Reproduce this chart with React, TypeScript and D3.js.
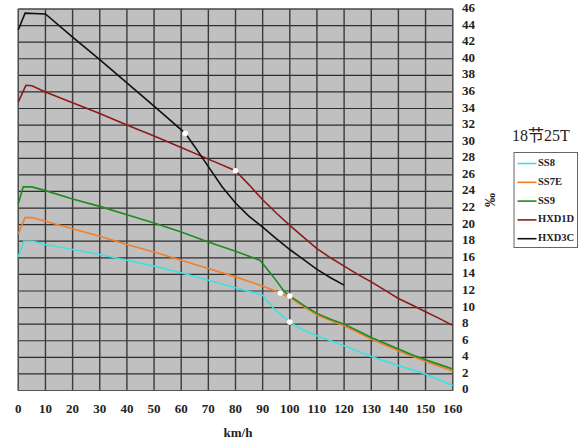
import * as d3 from "d3";

// speed (km/h) / gradient (‰) pairs
const seriesNames = ["SS8", "SS7E", "SS9", "HXD1D", "HXD3C"];
const seriesColors = ["#3fe0e0", "#f07f2c", "#1f8a1f", "#8e1a1a", "#111111"];

const ss8 = [
  [0, 16.1], [2, 18.0], [5.5, 18.0], [10, 17.6], [20, 17.0], [30, 16.4], [40, 15.7],
  [50, 15.0], [60, 14.2], [70, 13.3], [80, 12.4], [90, 11.5], [94, 9.9], [100, 8.25],
  [105, 7.3], [110, 6.6], [120, 5.4], [130, 4.1], [140, 3.0], [150, 2.0], [160, 0.6],
];
const ss7e = [
  [0, 18.9], [2.5, 20.85], [5, 20.85], [10, 20.4], [20, 19.5], [30, 18.6], [40, 17.6],
  [50, 16.7], [60, 15.7], [70, 14.7], [80, 13.7], [90, 12.6], [96.5, 11.75], [100, 11.2],
  [110, 9.1], [120, 7.8], [130, 6.2], [140, 4.8], [150, 3.5], [160, 2.35],
];
const ss9 = [
  [0, 22.5], [1.8, 24.55], [5, 24.55], [10, 24.1], [20, 23.1], [30, 22.2], [40, 21.2],
  [50, 20.2], [60, 19.1], [70, 17.9], [80, 16.8], [89, 15.7], [94, 13.7], [98, 11.9],
  [100, 11.4], [105, 10.3], [110, 9.3], [115, 8.6], [120, 8.0], [125, 7.2], [130, 6.4],
  [135, 5.7], [140, 5.0], [145, 4.3], [150, 3.7], [155, 3.15], [160, 2.6],
];
const hxd1d = [
  [0, 34.8], [2.8, 36.8], [5, 36.75], [10, 36.0], [20, 34.7], [30, 33.4], [40, 32.0],
  [50, 30.7], [60, 29.3], [70, 27.9], [80, 26.5], [85, 24.8], [90, 23.0], [95, 21.4],
  [100, 19.9], [105, 18.5], [110, 17.1], [115, 16.0], [120, 15.0], [125, 14.0], [130, 13.1],
  [135, 12.1], [140, 11.1], [145, 10.3], [150, 9.5], [155, 8.7], [160, 7.85],
];
const hxd3c = [
  [0, 43.5], [2.5, 45.5], [10, 45.4], [20, 42.6], [30, 39.9], [40, 37.1], [50, 34.3],
  [61.5, 31.0], [65, 29.4], [70, 27.0], [75, 24.6], [80, 22.6], [85, 21.0], [90, 19.7],
  [95, 18.3], [100, 17.0], [105, 15.8], [110, 14.6], [115, 13.6], [120, 12.7],
];
const seriesData = [ss8, ss7e, ss9, hxd1d, hxd3c];

// white markers where the curves change character
const markers = [[61.5, 31.0], [80, 26.5], [96.5, 11.75], [100, 11.4], [100, 8.25]];

const xTicks = d3.range(0, 161, 10);
const yTicks = d3.range(0, 47, 2);
const legendTitle = ["18", "节", "25T"];

const font = "'Liberation Serif', 'DejaVu Serif', serif";

export default function App() {
  const width = 580;
  const height = 443;
  const x = d3.scaleLinear().domain([0, 160]).range([18.3, 452.7]);
  const y = d3.scaleLinear().domain([0, 46]).range([390.5, 9]);

  const line = d3.line<number[]>()
    .x(d => x(d[0]))
    .y(d => y(d[1]));

  return (
    <svg
      width={width}
      height={height}
      style={{ position: "absolute", left: 0, top: 0, background: "#fff" }}
      fontFamily={font}
    >
      <rect x={x(0)} y={y(46)} width={x(160) - x(0)} height={y(0) - y(46)} fill="#c0c0c0" />
      {yTicks.map(t => (
        <line key={"h" + t} x1={x(0)} x2={x(160)} y1={y(t)} y2={y(t)} stroke="#2e2e2e" strokeWidth={1.2} />
      ))}
      {xTicks.map(t => (
        <line key={"v" + t} x1={x(t)} x2={x(t)} y1={y(0)} y2={y(46)} stroke="#3a3a3a" strokeWidth={1.4} />
      ))}
      <rect x={x(0)} y={y(46)} width={x(160) - x(0)} height={y(0) - y(46)} fill="none" stroke="#555" strokeWidth={1} />

      {seriesData.map((s, i) => (
        <path key={seriesNames[i]} d={line(s) ?? ""} fill="none" stroke={seriesColors[i]} strokeWidth={1.6} />
      ))}
      {markers.map((m, i) => (
        <circle key={"m" + i} cx={x(m[0])} cy={y(m[1])} r={2.8} fill="#fff" />
      ))}

      {xTicks.map(t => (
        <text key={"xt" + t} x={x(t)} y={410} textAnchor="middle" dominantBaseline="middle"
          fontSize={13} fontWeight="bold" fill="#222">{t}</text>
      ))}
      {yTicks.map(t => (
        <text key={"yt" + t} x={462} y={y(t)} textAnchor="start" dominantBaseline="middle"
          fontSize={13} fontWeight="bold" fill="#222">{t}</text>
      ))}
      <text x={238} y={434} textAnchor="middle" dominantBaseline="middle" fontSize={13}
        fontWeight="bold" fill="#222">km/h</text>
      <text transform="translate(492,200) rotate(-90)" textAnchor="middle" dominantBaseline="middle"
        fontSize={14} fontWeight="bold" fill="#222">‰</text>

      <text x={512} y={137} dominantBaseline="middle" fontSize={16} fill="#222">
        <tspan>{legendTitle[0]}</tspan>
        <tspan fontFamily="'Noto Sans CJK SC', sans-serif">{legendTitle[1]}</tspan>
        <tspan>{legendTitle[2]}</tspan>
      </text>
      <rect x={514} y={152.5} width={63.5} height={95} fill="#fff" stroke="#666" strokeWidth={1} />
      {seriesNames.map((n, i) => {
        const cy = 163.5 + i * 18.8;
        return (
          <g key={"lg" + n}>
            <line x1={517.5} x2={536.5} y1={cy} y2={cy} stroke={seriesColors[i]} strokeWidth={1.6} />
            <text x={538} y={cy} dominantBaseline="middle" fontSize={10.5} fontWeight="bold" fill="#222">{n}</text>
          </g>
        );
      })}
    </svg>
  );
}
